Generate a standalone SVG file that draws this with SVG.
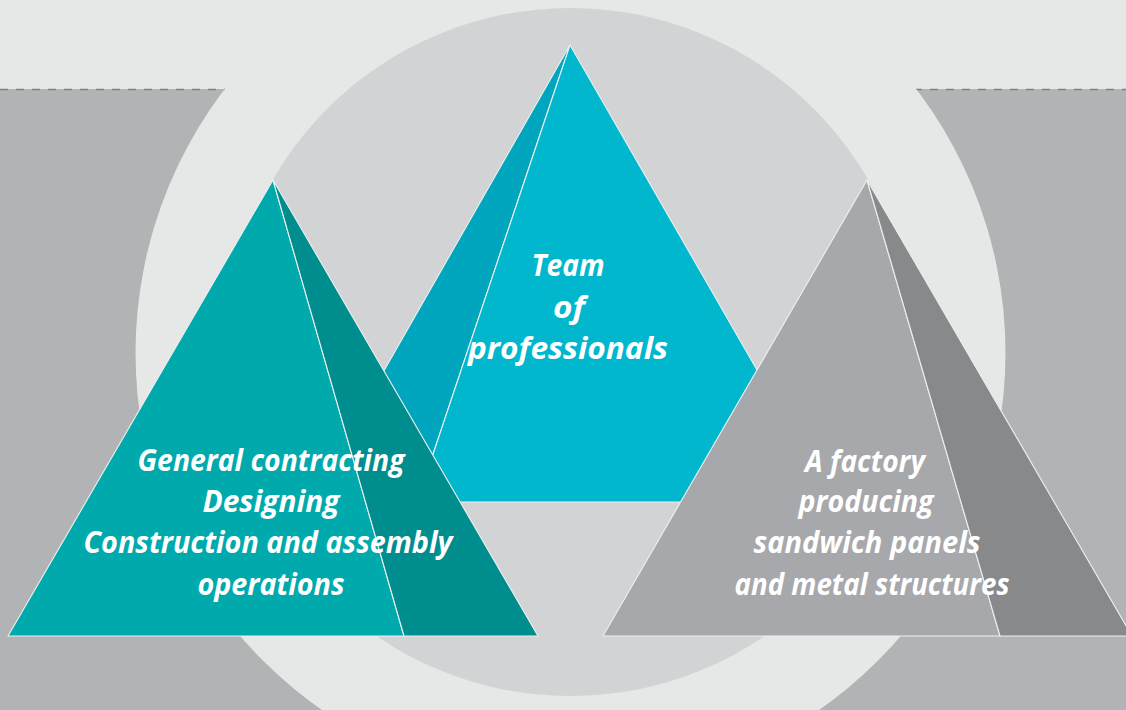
<svg xmlns="http://www.w3.org/2000/svg" width="1126" height="710" viewBox="0 0 1126 710">
<style>
.bg{fill:#e6e7e7}
.panel{fill:#b2b3b5}
.dash{stroke:#7f8082;stroke-width:1.5;stroke-dasharray:8 8;fill:none}
.face{stroke:#eef0f0;stroke-width:1.1;stroke-linejoin:round}
.lbl{font-family:"Open Sans","DejaVu Sans",sans-serif;font-style:italic;font-weight:700;font-size:30px;fill:#ffffff;text-anchor:middle}
</style>
<rect class="bg" x="0" y="0" width="1126" height="710"/>
<g id="backdrop">
<rect class="panel" x="0" y="89" width="420" height="621"/>
<rect class="panel" x="706" y="89" width="420" height="621"/>
<line class="dash" x1="0" y1="89.5" x2="420" y2="89.5"/>
<line class="dash" x1="706" y1="89.5" x2="1126" y2="89.5"/>
<circle class="bg" cx="570.5" cy="353" r="435"/>
<circle cx="570.5" cy="352" r="344" fill="#d1d3d4"/>
</g>
<g id="node-team">
<polygon class="face" points="570,45 309,502 417,502" fill="#00a6be"/>
<polygon class="face" points="570,45 417,502 833,502" fill="#00b7ce"/>
<text class="lbl" x="568" y="276" textLength="73" lengthAdjust="spacingAndGlyphs">Team</text>
<text class="lbl" x="569" y="318" textLength="32" lengthAdjust="spacingAndGlyphs">of</text>
<text class="lbl" x="568" y="359" textLength="200" lengthAdjust="spacingAndGlyphs">professionals</text>
</g>
<g id="node-contracting">
<polygon class="face" points="273,180 8,636 404,636" fill="#00a9ac"/>
<polygon class="face" points="273,180 404,636 538,636" fill="#008d8d"/>
<text class="lbl" x="271" y="471" textLength="267" lengthAdjust="spacingAndGlyphs">General contracting</text>
<text class="lbl" x="271" y="512" textLength="137" lengthAdjust="spacingAndGlyphs">Designing</text>
<text class="lbl" x="268" y="553" textLength="369" lengthAdjust="spacingAndGlyphs">Construction and assembly</text>
<text class="lbl" x="271" y="595" textLength="147" lengthAdjust="spacingAndGlyphs">operations</text>
</g>
<g id="node-factory">
<polygon class="face" points="867,180 603,636 1000,636" fill="#a7a8ab"/>
<polygon class="face" points="867,180 1000,636 1132,636" fill="#88898b"/>
<text class="lbl" x="865" y="472" textLength="120" lengthAdjust="spacingAndGlyphs">A factory</text>
<text class="lbl" x="866" y="512" textLength="135" lengthAdjust="spacingAndGlyphs">producing</text>
<text class="lbl" x="867" y="553" textLength="227" lengthAdjust="spacingAndGlyphs">sandwich panels</text>
<text class="lbl" x="872" y="595" textLength="275" lengthAdjust="spacingAndGlyphs">and metal structures</text>
</g>
<g id="connectors"/>
</svg>
